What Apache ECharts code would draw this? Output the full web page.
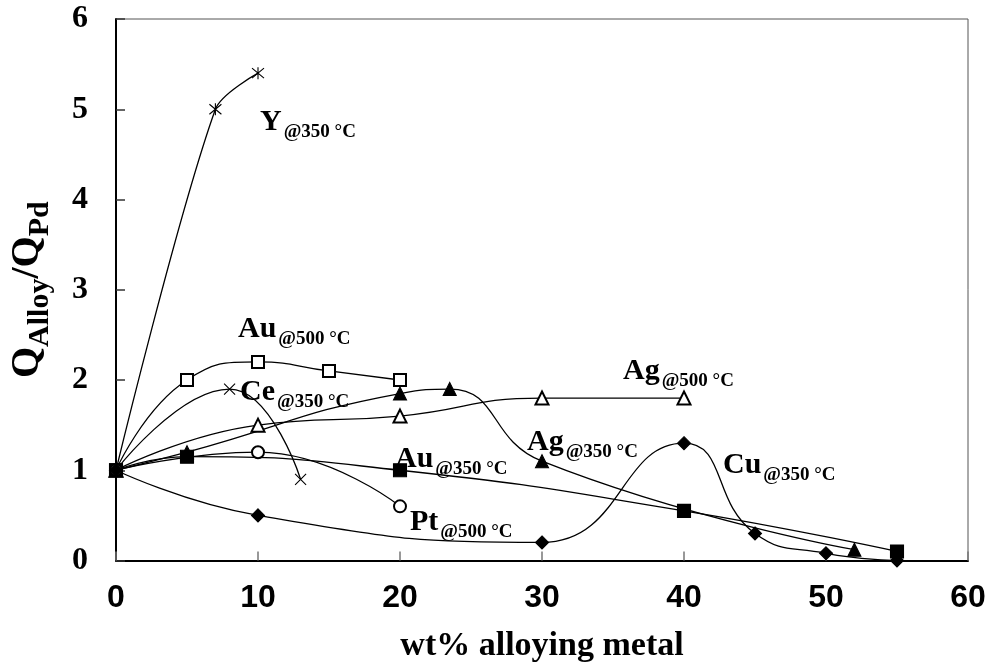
<!DOCTYPE html>
<html>
<head>
<meta charset="utf-8">
<script src="https://cdn.jsdelivr.net/npm/echarts@6/dist/echarts.min.js"></script>
<style>
  html, body { margin: 0; padding: 0; background: #fff; }
  #chart { width: 989px; height: 666px; }
</style>
</head>
<body>
<div id="chart"></div>
<script>
// Hydrogen permeability ratio of Pd alloys vs. pure Pd, by alloying metal content
const yAt350  = [[0, 1], [7, 5.0], [10, 5.4]];
const auAt500 = [[0, 1], [5, 2.0], [10, 2.2], [15, 2.1], [20, 2.0]];
const ceAt350 = [[0, 1], [8, 1.9], [13, 0.9]];
const agAt350 = [[0, 1], [5, 1.2], [20, 1.85], [23.5, 1.9], [30, 1.1], [52, 0.12]];
const agAt500 = [[0, 1], [10, 1.5], [20, 1.6], [30, 1.8], [40, 1.8]];
const auAt350 = [[0, 1], [5, 1.15], [20, 1.0], [40, 0.55], [55, 0.1]];
const ptAt500 = [[0, 1], [10, 1.2], [20, 0.6]];
const cuAt350 = [[0, 1], [10, 0.5], [30, 0.2], [40, 1.3], [45, 0.3], [50, 0.08], [55, 0.0]];

// Curve annotations: element symbol and its test temperature
const noteElements = ['Y', 'Au', 'Ce', 'Au', 'Pt', 'Ag', 'Ag', 'Cu'];
const noteTemps    = ['@350 °C', '@500 °C', '@350 °C', '@350 °C', '@500 °C', '@500 °C', '@350 °C', '@350 °C'];
// where each annotation starts: left edge / baseline, in pixels
const notePlacement = [[260, 130], [238, 337], [240, 400], [395, 467], [410, 530], [623, 379], [527, 450], [723, 473]];

const xAxisTitle = 'wt% alloying metal';

const SERIF = '"Liberation Serif", "Times New Roman", serif';
const SANS = '"Liberation Sans", Arial, sans-serif';

const chart = echarts.init(document.getElementById('chart'), null, { renderer: 'canvas' });

const crossPath = 'path://M0,0L10,10M10,0L0,10';
const starPath = 'path://M0,0L10,10M10,0L0,10M5,-1L5,11';

function lineSeries(name, data, symbol, size, smooth) {
  return {
    name, type: 'line', data, smooth,
    symbol, symbolSize: size,
    showSymbol: true,
    lineStyle: { color: '#000', width: 1.3 },
    itemStyle: { color: '#000', borderColor: '#000', borderWidth: 1.1 },
    emphasis: { disabled: true },
    animation: false,
    z: 3
  };
}

chart.setOption({
  backgroundColor: '#fff',
  animation: false,
  grid: {
    left: 116, right: 21, top: 19, bottom: 105.5,
    show: true, borderColor: '#555', borderWidth: 1, backgroundColor: 'transparent'
  },
  xAxis: {
    type: 'value', min: 0, max: 60, interval: 10,
    axisLine: { onZero: false, lineStyle: { color: '#000', width: 2 } },
    axisTick: { inside: true, length: 9, lineStyle: { color: '#777', width: 1.5 } },
    axisLabel: { margin: 22, color: '#000', fontFamily: SANS, fontWeight: 'bold', fontSize: 32 },
    splitLine: { show: false }
  },
  yAxis: {
    type: 'value', min: 0, max: 6, interval: 1,
    axisLine: { onZero: false, lineStyle: { color: '#000', width: 2 } },
    axisTick: { inside: true, length: 9, lineStyle: { color: '#333', width: 1.5 } },
    axisLabel: { margin: 28, color: '#000', fontFamily: SERIF, fontWeight: 'bold', fontSize: 32 },
    splitLine: { show: false }
  },
  series: [
    lineSeries('Y 350', yAt350, starPath, 12, 0.3),
    lineSeries('Au 500', auAt500, 'emptyRect', 12, 0.5),
    lineSeries('Ce 350', ceAt350, crossPath, 11, 0.5),
    lineSeries('Ag 350', agAt350, 'triangle', 13, 0.5),
    lineSeries('Ag 500', agAt500, 'emptyTriangle', 13, 0.5),
    lineSeries('Au 350', auAt350, 'rect', 13, 0.5),
    lineSeries('Pt 500', ptAt500, 'emptyCircle', 12, 0.5),
    lineSeries('Cu 350', cuAt350, 'diamond', 13, 0.5)
  ]
});

// ---- text with subscripts, built from pieces so each keeps its own baseline ----
const ctx = document.createElement('canvas').getContext('2d');
function fontOf(size) { return 'bold ' + size + 'px ' + SERIF; }
function textWidth(t, size) { ctx.font = fontOf(size); ctx.textBaseline = 'alphabetic'; return ctx.measureText(t).width; }
// how far the canvas "middle" line sits above the alphabetic baseline
function middleRise(size) {
  ctx.font = fontOf(size);
  ctx.textBaseline = 'alphabetic';
  const a = ctx.measureText('H').actualBoundingBoxAscent;
  ctx.textBaseline = 'middle';
  const b = ctx.measureText('H').actualBoundingBoxAscent;
  ctx.textBaseline = 'alphabetic';
  return a - b;
}

function pieceText(parts, x, y, rotation, centered) {
  let cx = 0;
  const children = [];
  parts.forEach(p => {
    children.push({
      type: 'text', x: cx, y: (p.drop || 0) - middleRise(p.size), silent: true,
      style: {
        text: p.text, font: fontOf(p.size), fill: '#000',
        align: 'left', verticalAlign: 'middle',
        textAlign: 'left', textVerticalAlign: 'middle'
      }
    });
    cx += textWidth(p.text, p.size) + (p.gap || 0);
  });
  if (centered) children.forEach(c => { c.x -= cx / 2; });
  return { type: 'group', x, y, rotation: rotation || 0, silent: true, children };
}

const graphics = [];
noteElements.forEach((el, i) => {
  const [px, py] = notePlacement[i];
  graphics.push(pieceText([
    { text: el, size: 30, gap: 2 },
    { text: noteTemps[i], size: 19, drop: 7 }
  ], px, py));
});

// vertical axis title  Q_Alloy / Q_Pd, reading bottom to top
graphics.push(pieceText([
  { text: 'Q', size: 40 },
  { text: 'Alloy', size: 30, drop: 10 },
  { text: '/', size: 40 },
  { text: 'Q', size: 40 },
  { text: 'Pd', size: 30, drop: 10 }
], 38, 378, Math.PI / 2));

// horizontal axis title
graphics.push(pieceText([{ text: xAxisTitle, size: 34 }], 542, 655, 0, true));

chart.setOption({ graphic: { elements: graphics } });
</script>
</body>
</html>
